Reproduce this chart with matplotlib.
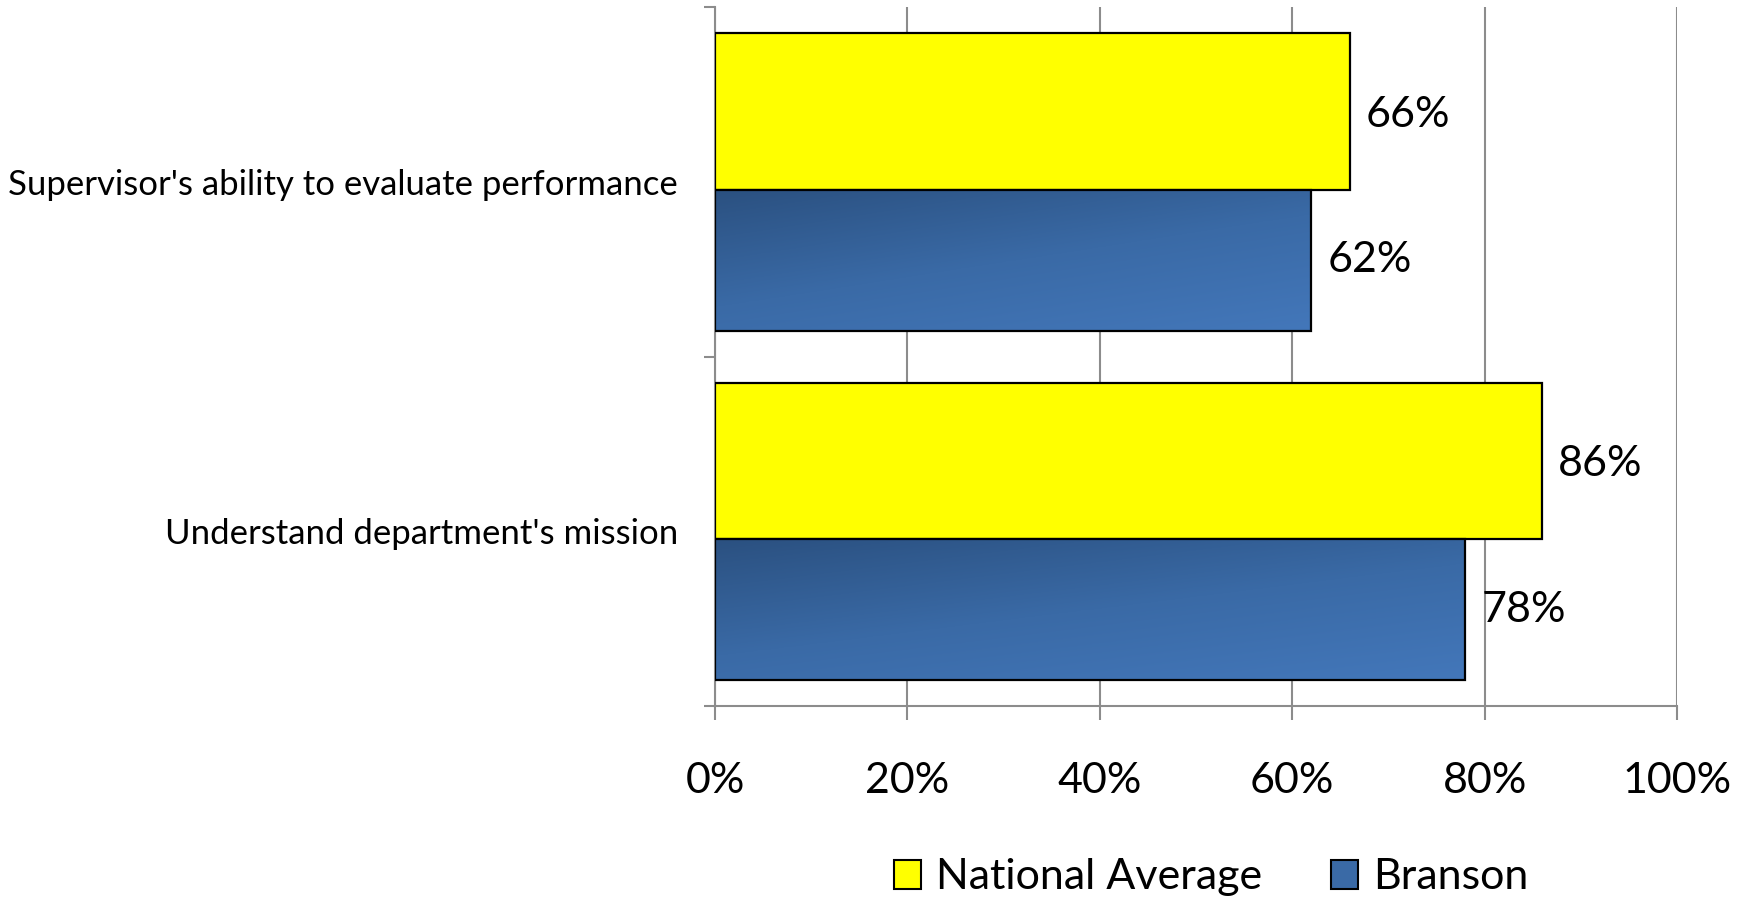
import numpy as np
import matplotlib
matplotlib.use("Agg")
import matplotlib.pyplot as plt
from matplotlib.patches import Patch
from matplotlib.colors import LinearSegmentedColormap

categories = ["Supervisor's ability to evaluate performance", "Understand department's mission"]
national_average = [66, 86]
branson = [62, 78]
series_names = ["National Average", "Branson"]
xticks = [0, 20, 40, 60, 80, 100]
xtick_labels = ["0%", "20%", "40%", "60%", "80%", "100%"]

plt.rcParams['font.family'] = ['Lato', 'DejaVu Sans']

W, H = 1748, 899
fig = plt.figure(figsize=(W / 100, H / 100), dpi=100)
ax = fig.add_axes([715 / W, 1 - 706 / H, (1677 - 715) / W, (706 - 7) / H])

yellow = "#FFFF00"
blue_cmap = LinearSegmentedColormap.from_list("bl", ["#2B5181", "#3A6AA6", "#4377BA"])

gray = "#8C8C8C"
ax.set_xlim(0, 100)
ax.set_ylim(2, 0)

# bar layout within each category band (band = 1 unit)
y_off, y_h = 0.299, 0.449
b_off, b_h = 0.725, 0.403

for i, (na, br) in enumerate(zip(national_average, branson)):
    ax.barh(i + y_off, na, height=y_h, color=yellow, edgecolor="black", linewidth=1.6, zorder=3)
    bars = ax.barh(i + b_off, br, height=b_h, color="none", edgecolor="black", linewidth=1.6, zorder=4)
    rect = bars[0]
    nx, ny = 200, 60
    xx, yy = np.meshgrid(np.linspace(0, 1, nx), np.linspace(0, 1, ny))
    grad = 0.4 * xx + 0.6 * yy
    top = i + b_off - b_h / 2
    bot = i + b_off + b_h / 2
    im = ax.imshow(grad, cmap=blue_cmap, vmin=0, vmax=1, extent=[0, br, bot, top],
                   aspect="auto", origin="upper", zorder=3, interpolation="bilinear")
    im.set_clip_path(rect)
    ax.annotate(f"{na}%", xy=(na, i + y_off), xytext=(16, -3), textcoords="offset pixels",
                ha="left", va="center", fontsize=31, color="black")
    ax.annotate(f"{br}%", xy=(br, i + b_off), xytext=(16, 0), textcoords="offset pixels",
                ha="left", va="center", fontsize=31, color="black")

ax.set_xlim(0, 100)
ax.set_ylim(2, 0)

ax.set_xticks(xticks)
ax.set_xticklabels(xtick_labels, fontsize=31)
ax.set_yticks([0, 1, 2])
ax.set_yticklabels([])
ax.set_yticks([0.5, 1.5], minor=True)
ax.set_yticklabels(categories, minor=True, fontsize=25)
ax.tick_params(axis="y", which="minor", length=0, pad=26.5)
ax.tick_params(axis="y", which="major", length=8, color=gray, width=1.5, direction="out")
ax.tick_params(axis="x", which="major", length=10, color=gray, width=1.5, direction="out", pad=30)

ax.grid(axis="x", color=gray, linewidth=1.5, zorder=0)
ax.set_axisbelow(True)
for s in ["top", "right"]:
    ax.spines[s].set_visible(False)
for s in ["left", "bottom"]:
    ax.spines[s].set_color(gray)
    ax.spines[s].set_linewidth(1.5)

handles = [Patch(facecolor=yellow, edgecolor="black", linewidth=1.5),
           Patch(facecolor="#3A6AA6", edgecolor="black", linewidth=1.5)]
fig.legend(handles, series_names, loc="center", bbox_to_anchor=(0.693, 0.024), ncol=2,
           frameon=False, fontsize=31, handlelength=0.62, handleheight=0.65,
           handletextpad=0.35, columnspacing=1.6)

fig.savefig("out.png", dpi=100)
